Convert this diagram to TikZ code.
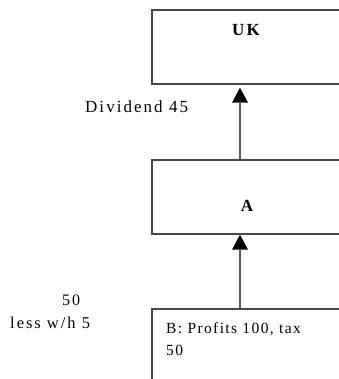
\documentclass[tikz,border=0pt]{standalone}
\usepackage{fontspec}
\setmainfont{Liberation Serif}[LetterSpace=12]
\usetikzlibrary{arrows.meta}
\begin{document}
\begin{tikzpicture}[x=1pt,y=1pt,
  box/.style={draw=black!72, line width=1.3pt, rectangle, inner sep=0pt},
  arr/.style={draw=black!65, line width=1.3pt, -{Triangle[width=16pt,length=15pt,fill=black,line width=0pt]}},
  txt/.style={font=\fontsize{15.5}{22}\selectfont, inner sep=0pt, anchor=base west},
  bold/.style={font=\fontsize{17}{20}\selectfont\bfseries, inner sep=0pt}]
\useasboundingbox (0,0) rectangle (338,-379);
% boxes
\node[box, minimum width=190pt, minimum height=74pt] (uk) at (247,-47) {};
\node[box, minimum width=190pt, minimum height=74pt] (a) at (247,-197) {};
\node[box, minimum width=190pt, minimum height=100pt] (b) at (247,-359) {};
% box texts
\node[bold] (ukt) at (246,-30) {UK};
\node[bold] (at) at (247,-206) {A};
\node[txt, align=left, anchor=north west, font=\fontsize{15.5}{22}\selectfont\addfontfeature{LetterSpace=9}] (bt) at (166,-322) {B: Profits 100, tax\\50};
% connectors
\coordinate (ax) at (240,0);
\draw[arr] (ax |- b.north) -- (ax |- a.south);
\draw[arr] (ax |- a.north) -- ([yshift=-3pt]ax |- uk.south);
% labels
\node[txt, font=\fontsize{17}{20}\selectfont] (div) at (85,-113) {Dividend 45};
\node[txt, font=\fontsize{16}{20}\selectfont] (fifty) at (62,-305) {50};
\node[txt, font=\fontsize{16.5}{20}\selectfont] (less) at (10,-328) {less w/h 5};
\end{tikzpicture}
\end{document}
